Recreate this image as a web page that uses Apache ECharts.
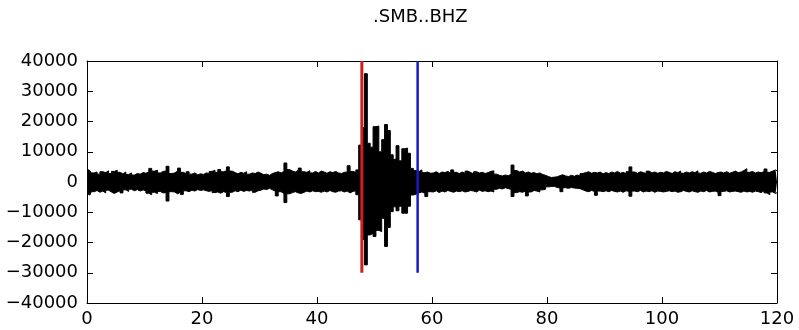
<!DOCTYPE html>
<html>
<head>
<meta charset="utf-8">
<script src="https://cdn.jsdelivr.net/npm/echarts@6/dist/echarts.min.js"></script>
<style>
  html, body { margin: 0; padding: 0; background: #fff; }
  #seismogram { width: 799px; height: 330px; }
</style>
</head>
<body>
<div id="seismogram"></div>
<script>
// trace envelope, one pair every 0.5 s (0 .. 120 s)
var sampleStep = 0.5
var upper = [
  4200, 3800, 3000, 3300, 2600, 3400, 3100, 3700, 2800, 3500,
  3900, 3200, 2700, 3300, 2500, 3000, 2300, 2800, 2600, 3100,
  2900, 3400, 4500, 3600, 3900, 3000, 3500, 3600, 5200, 2800,
  3000, 3600, 4600, 3200, 2700, 3400, 2600, 3000, 2400, 2700,
  2500, 3000, 2800, 3500, 3900, 3200, 4100, 3400, 3700, 5000,
  3600, 3100, 2700, 3200, 2900, 3400, 2600, 3000, 2800, 3300,
  2900, 2400, 2600, 2200, 2800, 3100, 3400, 3000, 3500, 6300,
  4100, 3600, 3300, 3900, 4600, 3400, 3200, 3700, 3000, 3500,
  3000, 3600, 3300, 2900, 3400, 3100, 3500, 3000, 2800, 3200,
  3300, 5400, 3500, 3200, 4000, 12200, 18000, 35800, 12800, 11500,
  18300, 18500, 10000, 14000, 19000, 17000, 9000, 7500, 12000, 7000,
  11000, 11200, 9500, 4500, 3800, 3500, 4000, 3100, 3300, 2900,
  3000, 3400, 2800, 3300, 3100, 3500, 2900, 4000, 3200, 2800,
  3300, 2900, 3600, 3100, 2700, 3400, 3000, 3200, 2800, 3100,
  3500, 3700, 2600, 2200, 2000, 2300, 2100, 2500, 5600, 3800,
  3300, 3600, 3000, 3300, 2900, 3100, 2700, 3000, 2500, 2200,
  1800, 1500, 1600, 1700, 2100, 2400, 2000, 1800, 2200, 1900,
  2300, 2000, 2800, 3100, 3400, 2900, 3200, 3000, 3300, 2700,
  3100, 2800, 3300, 3000, 3500, 2900, 3200, 2700, 3400, 5000,
  3300, 2900, 3400, 3100, 2800, 3600, 3000, 3300, 2900, 3200,
  3000, 3500, 3200, 2800, 3400, 3100, 3600, 2900, 3300, 3000,
  3400, 3100, 3700, 2900, 3300, 3000, 3500, 3200, 2800, 3100,
  3300, 3000, 3400, 2900, 3200, 3600, 3100, 3300, 3800, 4400,
  3200, 3500, 3000, 3300, 3100, 3400, 4300, 3200, 3600, 4000, 3700
]
var lower = [
  -3900, -4300, -3200, -2800, -3400, -3000, -3600, -2700, -3300, -3800,
  -3300, -2900, -3600, -2600, -3100, -2400, -2900, -2500, -3000, -2600,
  -3000, -3700, -4200, -3400, -3800, -3100, -3600, -3500, -6300, -3200,
  -3300, -3900, -3400, -4100, -2900, -3200, -2700, -3000, -2500, -2800,
  -2600, -2900, -3100, -2800, -3500, -3300, -3700, -3200, -3500, -4800,
  -3400, -2900, -3200, -2700, -3100, -2800, -3000, -2600, -3400, -2900,
  -2700, -2300, -2500, -2100, -2600, -3000, -4600, -3200, -3800, -6800,
  -3900, -3500, -3200, -3600, -3800, -3400, -3000, -3300, -2900, -3200,
  -3100, -3400, -3000, -3300, -2800, -3200, -3400, -3000, -2900, -3300,
  -3000, -3600, -3100, -2900, -4200, -12500, -19000, -27400, -17500, -17000,
  -18000, -16000, -16400, -12000, -21300, -15000, -9800, -8200, -9500, -8000,
  -10300, -10300, -8000, -4300, -4000, -3600, -3300, -3700, -4800, -3200,
  -3300, -2900, -3500, -3000, -3300, -2800, -3100, -3400, -3000, -3200,
  -2900, -3300, -3100, -2800, -3000, -3300, -2700, -3100, -2900, -3200,
  -3000, -3300, -2400, -2100, -2300, -1900, -2200, -2400, -4800, -3500,
  -3200, -3400, -3000, -4600, -3300, -2800, -3000, -3300, -2600, -2400,
  -1600, -1500, -1400, -1800, -2000, -3200, -1900, -2100, -1800, -2000,
  -2100, -2200, -2600, -3000, -3200, -2800, -3100, -4400, -3000, -3200,
  -2900, -3200, -2800, -3100, -3300, -3000, -3400, -2900, -3100, -4700,
  -3000, -3200, -2800, -3300, -3000, -3200, -2900, -3400, -3000, -3100,
  -3300, -3100, -2900, -3200, -3000, -3400, -3200, -2800, -3100, -3300,
  -2900, -3200, -3400, -3000, -3200, -2800, -3300, -3100, -3000, -3400,
  -4500, -3100, -2900, -3300, -3100, -3000, -3200, -3400, -3000, -3300,
  -3100, -3400, -3000, -3200, -3500, -2900, -3600, -4200, -3300, -3800, -3500
]

// phase picks (s) and the span of their markers
var pickNames = ['P', 'S']
var pickTimes = [47.8, 57.5]
var pickLow = -30000
var pickHigh = 40000

var xTicks = [0, 20, 40, 60, 80, 100, 120]
var yTicks = [-40000, -30000, -20000, -10000, 0, 10000, 20000, 30000, 40000]

function toPoints(arr) {
  return arr.map(function (v, i) { return [i * sampleStep, v] })
}

function minusFmt(v) {
  return v < 0 ? '\u2212' + Math.abs(v) : String(v)
}

const font = 'DejaVu Sans'
const tickStyle = { show: true, inside: true, length: 6, lineStyle: { color: '#000', width: 1 } }
const lineStyleAx = { show: true, onZero: false, lineStyle: { color: '#000', width: 1 } }

const chart = echarts.init(document.getElementById('seismogram'))
const pickColors = ['#cc1f1f', '#1a1ac8']
const pickWidths = [3, 2.5]

// the dense trace is drawn as its envelope, filled up and down from zero
const envelopeSeries = [upper, lower].map(function (arr, k) {
  return {
    name: k === 0 ? 'BHZ max' : 'BHZ min',
    type: 'line',
    data: toPoints(arr),
    step: 'middle',
    symbol: 'none',
    z: 2,
    clip: true,
    lineStyle: { color: '#000', width: 1 },
    areaStyle: { color: '#000', opacity: 1, origin: 0 }
  }
})

const pickSeries = pickTimes.map(function (t, k) {
  return {
    name: pickNames[k],
    type: 'line',
    data: [[t, pickLow], [t, pickHigh]],
    symbol: 'none',
    z: 5,
    lineStyle: { color: pickColors[k], width: pickWidths[k] }
  }
})

chart.setOption({
  animation: false,
  title: {
    text: '.SMB..BHZ',
    left: 373,
    top: 8,
    padding: 0,
    textStyle: { fontFamily: font, fontSize: 18, fontWeight: 'normal', color: '#000' }
  },
  grid: { left: 87, right: 22, top: 61, bottom: 27, containLabel: false },
  xAxis: [
    {
      type: 'value', min: xTicks[0], max: xTicks[xTicks.length - 1], interval: 20,
      axisLine: lineStyleAx, axisTick: tickStyle, splitLine: { show: false },
      axisLabel: { color: '#000', fontFamily: font, fontSize: 18, margin: 7 }
    },
    {
      type: 'value', position: 'top', min: xTicks[0], max: xTicks[xTicks.length - 1], interval: 20,
      axisLine: lineStyleAx, axisTick: tickStyle, splitLine: { show: false },
      axisLabel: { show: false }
    }
  ],
  yAxis: [
    {
      type: 'value', min: yTicks[0], max: yTicks[yTicks.length - 1], interval: 10000,
      axisLine: lineStyleAx, axisTick: tickStyle, splitLine: { show: false },
      axisLabel: { color: '#000', fontFamily: font, fontSize: 18, margin: 9, formatter: minusFmt }
    },
    {
      type: 'value', position: 'right', min: yTicks[0], max: yTicks[yTicks.length - 1], interval: 10000,
      axisLine: lineStyleAx, axisTick: tickStyle, splitLine: { show: false },
      axisLabel: { show: false }
    }
  ],
  series: envelopeSeries.concat(pickSeries)
})
</script>
</body>
</html>
